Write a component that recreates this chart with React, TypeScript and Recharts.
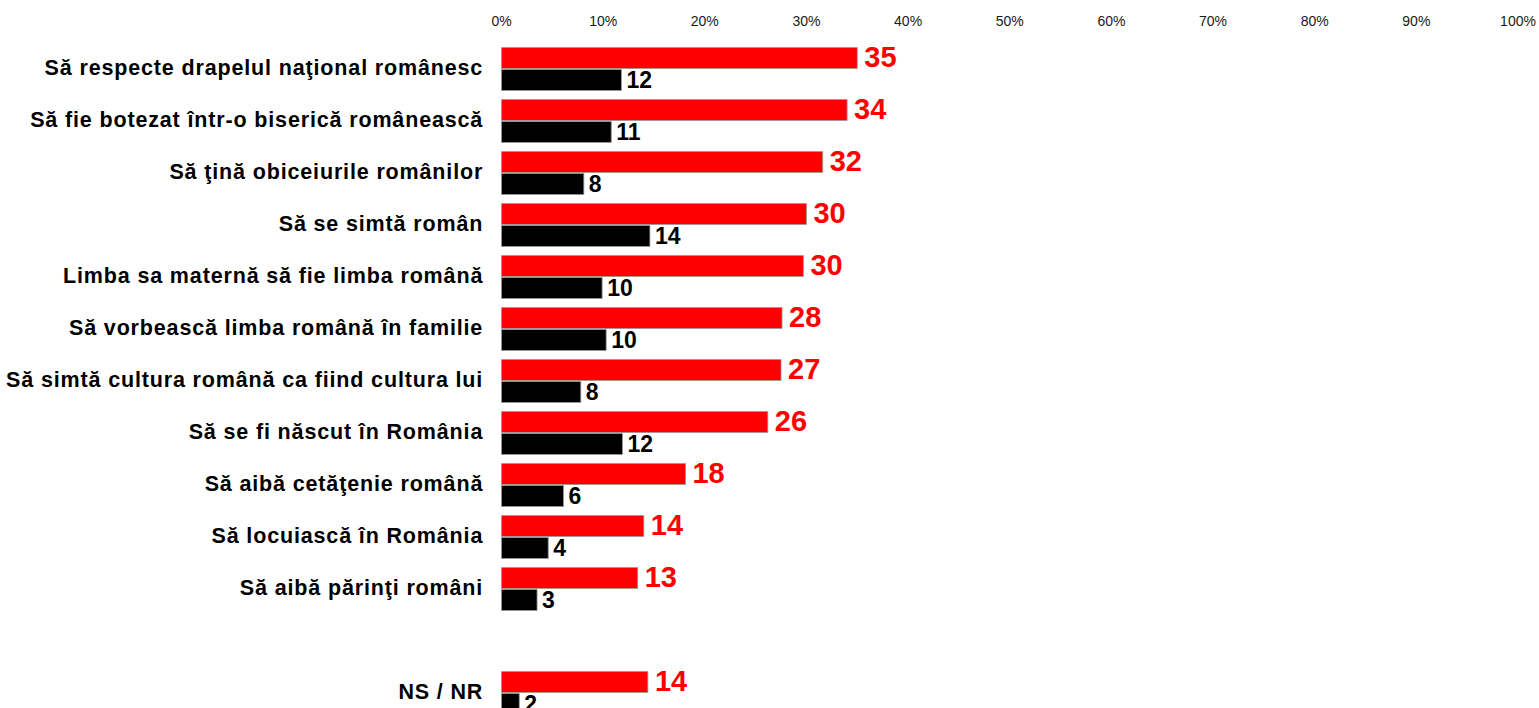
import { BarChart, Bar, XAxis, YAxis, LabelList } from 'recharts'

// categories top to bottom, '' is the blank spacer row before NS / NR
const categories = [
  'Să respecte drapelul naţional românesc',
  'Să fie botezat într-o biserică românească',
  'Să ţină obiceiurile românilor',
  'Să se simtă român',
  'Limba sa maternă să fie limba română',
  'Să vorbească limba română în familie',
  'Să simtă cultura română ca fiind cultura lui',
  'Să se fi născut în România',
  'Să aibă cetăţenie română',
  'Să locuiască în România',
  'Să aibă părinţi români',
  '',
  'NS / NR',
]

// bar lengths as drawn (percent)
const redValues   = [35.0, 34.0, 31.6, 30.0, 29.7, 27.6, 27.5, 26.2, 18.1, 14.0, 13.4, null, 14.4]
const blackValues = [11.8, 10.8, 8.1, 14.6, 9.9, 10.3, 7.8, 11.9, 6.1, 4.6, 3.5, null, 1.75]

// printed labels
const redLabels   = ['35', '34', '32', '30', '30', '28', '27', '26', '18', '14', '13', '', '14']
const blackLabels = ['12', '11', '8', '14', '10', '10', '8', '12', '6', '4', '3', '', '2']

const xTicks = [0, 10, 20, 30, 40, 50, 60, 70, 80, 90, 100]

const data = categories.map((cat, i) => ({
  cat,
  red: redValues[i],
  black: blackValues[i],
  redLabel: redLabels[i],
  blackLabel: blackLabels[i],
}))

function CategoryTick({ x, y, payload }: any) {
  if (!payload.value) return null
  return (
    <text
      x={x - 18.3}
      y={y + 6.7}
      textAnchor="end"
      fontSize={21.5}
      fontWeight="bold"
      letterSpacing={0.85}
      fill="#000"
    >
      {payload.value}
    </text>
  )
}

function makeLabel(color: string, size: number, offset: number, dy: number) {
  return (props: any) => {
    const { x, y, width, height, value } = props
    if (!value) return null
    return (
      <text
        x={x + width + offset}
        y={y + height / 2 + size * 0.358 + dy}
        fontSize={size}
        fontWeight="bold"
        fill={color}
      >
        {value}
      </text>
    )
  }
}

export default function App() {
  return (
    <div style={{ position: 'absolute', left: 0, top: 0, width: 1539, height: 720, background: '#fff', fontFamily: '"Liberation Sans", Arial, sans-serif' }}>
      <BarChart
        layout="vertical"
        width={1539}
        height={720}
        data={data}
        margin={{ top: 12.5, right: 21, bottom: 1.5, left: 0 }}
        barSize={21}
        barGap={1}
      >
        <XAxis
          type="number"
          orientation="top"
          domain={[0, 100]}
          ticks={xTicks}
          tickFormatter={(v) => `${v}%`}
          axisLine={false}
          tickLine={false}
          tickSize={0}
          tickMargin={17}
          height={30}
          tick={{ fontSize: 14, fill: '#1a1a1a' }}
        />
        <YAxis
          type="category"
          dataKey="cat"
          width={501.5}
          axisLine={false}
          tickLine={false}
          tickSize={0}
          tickMargin={0}
          interval={0}
          tick={<CategoryTick />}
        />
        <Bar dataKey="red" fill="#ff0000" stroke="#999" strokeWidth={0.8} isAnimationActive={false}>
          <LabelList dataKey="redLabel" content={makeLabel('#ff0000', 29, 7, -1.5)} />
        </Bar>
        <Bar dataKey="black" fill="#000000" stroke="#999" strokeWidth={0.8} isAnimationActive={false}>
          <LabelList dataKey="blackLabel" content={makeLabel('#000000', 23, 5, 0)} />
        </Bar>
      </BarChart>
    </div>
  )
}
